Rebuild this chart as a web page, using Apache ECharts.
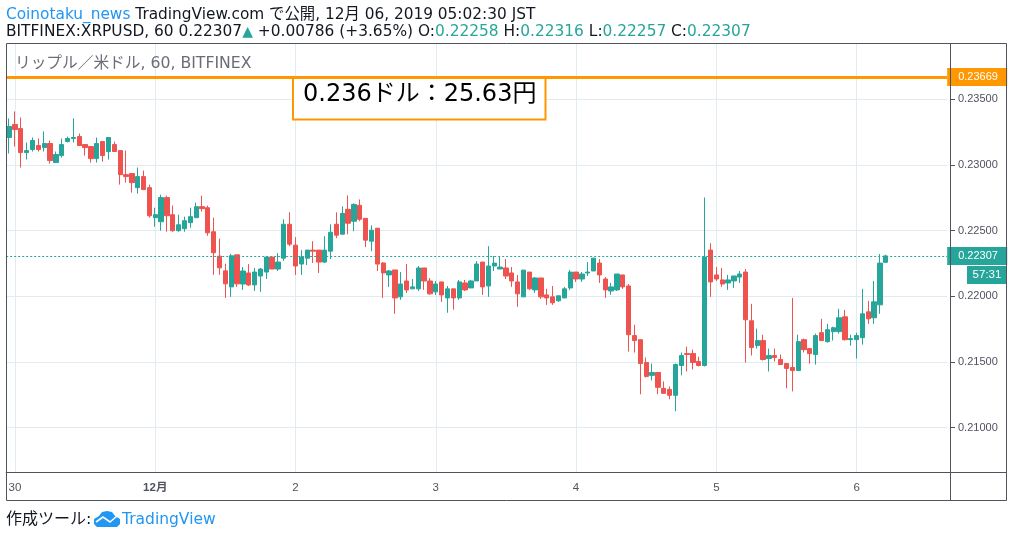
<!DOCTYPE html>
<html><head><meta charset="utf-8">
<style>html,body{margin:0;padding:0;background:#fff}#c{width:1014px;height:537px}</style>
<script src="https://cdn.jsdelivr.net/npm/echarts@6/dist/echarts.min.js"></script>
</head><body><div id="c"></div>
<script>
const opens=[.23209,.23308,.23277,.23094,.23117,.23148,.23132,.23163,.23018,.23071,
.23178,.23201,.23216,.23155,.23140,.23048,.23178,.23102,.23155,.23109,
.22926,.22934,.22827,.22911,.22827,.22598,.22567,.22751,.22621,.22499,
.22514,.22560,.22598,.22682,.22674,.22491,.22305,.22193,.22071,.22315,
.22093,.22177,.22086,.22154,.22184,.22298,.22207,.22290,.22548,.22389,
.22245,.22290,.22351,.22351,.22260,.22343,.22548,.22472,.22662,.22571,
.22692,.22593,.22419,.22518,.22253,.22162,.22200,.21995,.22116,.22056,
.22056,.22215,.22116,.22033,.22109,.21987,.22056,.21987,.22101,.22063,
.22116,.22260,.22078,.22230,.22207,.22215,.22177,.22109,.21995,.22184,
.22048,.22139,.22010,.21995,.21965,.21987,.22063,.22184,.22131,.22177,
.22192,.22252,.22131,.22040,.22048,.22162,.22078,.21700,.21669,.21495,
.21397,.21419,.21298,.21290,.21245,.21472,.21563,.21563,.21503,.21472,
.22351,.22162,.22124,.22101,.22116,.22146,.22184,.21813,.21624,.21662,
.21525,.21548,.21518,.21487,.21457,.21434,.21669,.21601,.21556,.21722,
.21654,.21730,.21730,.21843,.21669,.21669,.21684,.21881,.21836,.21934,.22258];
const closes=[.23293,.23270,.23094,.23109,.23186,.23117,.23163,.23033,.23079,.23155,
.23201,.23209,.23148,.23132,.23048,.23163,.23071,.23209,.23102,.22926,
.22911,.22865,.22911,.22812,.22613,.22621,.22751,.22613,.22499,.22544,
.22575,.22606,.22682,.22667,.22483,.22331,.22216,.22094,.22308,.22094,
.22192,.22086,.22184,.22207,.22298,.22207,.22260,.22548,.22396,.22230,
.22298,.22351,.22343,.22260,.22351,.22487,.22465,.22631,.22556,.22699,
.22586,.22427,.22503,.22245,.22177,.22192,.21987,.22093,.22048,.22071,
.22215,.22116,.22018,.22093,.22010,.22056,.21987,.22109,.22048,.22116,
.22245,.22071,.22230,.22252,.22222,.22154,.22116,.22018,.22199,.22056,
.22139,.21995,.21987,.21950,.22003,.22056,.22184,.22131,.22169,.22184,
.22290,.22162,.22048,.22071,.22169,.22071,.21707,.21662,.21487,.21389,
.21419,.21306,.21260,.21245,.21480,.21548,.21556,.21495,.21472,.22298,
.22109,.22131,.22093,.22124,.22154,.22169,.21821,.21609,.21662,.21518,
.21548,.21533,.21480,.21450,.21434,.21654,.21593,.21563,.21700,.21662,
.21745,.21760,.21836,.21669,.21677,.21700,.21866,.21828,.21957,.22252,.22307];
const highs=[.23354,.23407,.23361,.23171,.23209,.23201,.23255,.23186,.23102,.23201,
.23216,.23354,.23239,.23155,.23140,.23209,.23178,.23209,.23178,.23109,
.23109,.22934,.22980,.22957,.22850,.22674,.22773,.22766,.22690,.22621,
.22606,.22674,.22712,.22766,.22690,.22598,.22438,.22247,.22323,.22315,
.22222,.22245,.22215,.22215,.22298,.22298,.22328,.22586,.22639,.22450,
.22351,.22351,.22419,.22351,.22457,.22548,.22639,.22684,.22768,.22707,
.22737,.22593,.22540,.22518,.22260,.22200,.22200,.22184,.22245,.22131,
.22230,.22215,.22139,.22116,.22109,.22078,.22056,.22124,.22124,.22124,
.22268,.22260,.22381,.22306,.22306,.22283,.22222,.22162,.22199,.22184,
.22146,.22139,.22056,.22078,.22003,.22071,.22199,.22184,.22184,.22260,
.22290,.22283,.22146,.22101,.22169,.22162,.22093,.21783,.21669,.21533,
.21487,.21419,.21351,.21313,.21487,.21571,.21616,.21593,.21540,.22752,
.22404,.22222,.22215,.22162,.22154,.22192,.22207,.21942,.21753,.21707,
.21601,.21601,.21556,.21487,.21987,.21707,.21677,.21601,.21715,.21828,
.21790,.21768,.21904,.21896,.21707,.21722,.22056,.21965,.22116,.22321,.22316];
const lows=[.23087,.23140,.22980,.23041,.23102,.23102,.23102,.23010,.23018,.23056,
.23171,.23171,.23148,.23071,.23018,.23018,.23025,.23041,.23102,.22850,
.22865,.22789,.22781,.22812,.22598,.22529,.22499,.22491,.22491,.22491,
.22491,.22522,.22598,.22644,.22460,.22163,.22163,.21987,.21995,.22071,
.22048,.22078,.22040,.22033,.22131,.22207,.22192,.22268,.22381,.22162,
.22162,.22237,.22253,.22177,.22253,.22283,.22442,.22472,.22472,.22495,
.22571,.22374,.22343,.22192,.21987,.22071,.21866,.21972,.22025,.22056,
.22040,.22048,.22010,.22010,.21957,.21874,.21897,.21972,.22040,.22063,
.22116,.22010,.21995,.22192,.22207,.22131,.22071,.21919,.21995,.22048,
.22025,.21980,.21934,.21934,.21957,.21987,.22048,.22109,.22109,.22154,
.22192,.22101,.21987,.22010,.22040,.22056,.21578,.21571,.21253,.21381,
.21359,.21253,.21260,.21215,.21124,.21397,.21427,.21442,.21465,.21465,
.21995,.22116,.22071,.22048,.22063,.22101,.21495,.21548,.21601,.21510,
.21427,.21503,.21480,.21298,.21275,.21434,.21571,.21487,.21480,.21662,
.21646,.21662,.21715,.21662,.21624,.21525,.21631,.21790,.21790,.21866,.22257];
const totalBars=161;
const dayTickIndex=[1,25,49,73,97,121,145];
const dayTickLabels=['30','12月','2','3','4','5','6'];
const priceTicks=[0.21,0.215,0.22,0.225,0.23,0.235];
const lastPrice=0.22307, levelPrice=0.23669;
const UP='#26a69a',DOWN='#ef5350',ORANGE='#ff9800',AXIS='#50535e',GRID='#e1ecf2',BLUE='#2196f3';
const FF='"DejaVu Sans","Noto Sans CJK JP",sans-serif', AF='"Liberation Sans","Noto Sans CJK JP",sans-serif';
const cats=Array.from({length:totalBars},(_,i)=>String(i));
const candle=opens.map((o,i)=>[o,closes[i],lows[i],highs[i]]);
const isDay=i=>dayTickIndex.includes(i);
const priceLabel=(v,c)=>({yAxis:v,lineStyle:{color:c.line,width:c.w,type:c.t,opacity:1},
 label:{show:true,position:'end',distance:0,formatter:v.toFixed(5),color:'#fff',fontSize:11,fontFamily:AF,
 backgroundColor:c.line,width:49,height:18,lineHeight:18,padding:[0,0,0,11],align:'left'}});
const chart=echarts.init(document.getElementById('c'),null,{renderer:'canvas'});
chart.setOption({animation:false,
 grid:{left:6.2,top:44,width:941,height:428,containLabel:false},
 xAxis:{type:'category',data:cats,boundaryGap:true,
  axisLine:{lineStyle:{color:AXIS}},
  axisTick:{interval:(i)=>isDay(i),alignWithLabel:true,length:4,lineStyle:{color:AXIS}},
  axisLabel:{interval:(i)=>isDay(i),margin:10,color:AXIS,fontSize:11.5,fontFamily:AF,hideOverlap:false,
   formatter:(v,i)=>{const k=dayTickIndex.indexOf(+v);const t=dayTickLabels[k];return t==='12月'?'{b|'+t+'}':t;},
   rich:{b:{fontWeight:'bold',fontSize:11.5,color:AXIS,fontFamily:AF}}},
  splitLine:{show:true,interval:(i)=>isDay(i),alignWithLabel:true,lineStyle:{color:GRID,width:1}}},
 yAxis:{type:'value',position:'right',offset:2.8,min:0.20661,max:0.23921,
  axisLine:{show:true,lineStyle:{color:AXIS}},
  axisTick:{show:true,length:5,lineStyle:{color:AXIS},customValues:priceTicks},
  axisLabel:{customValues:priceTicks,margin:8,color:AXIS,fontSize:11,fontFamily:AF,formatter:v=>v.toFixed(5)},
  splitLine:{show:true,lineStyle:{color:GRID,width:1}}},
 series:[{type:'candlestick',data:candle,barWidth:4.8,
  itemStyle:{color:UP,color0:DOWN,borderColor:UP,borderColor0:DOWN,borderWidth:1},
  markLine:{silent:true,symbol:'none',animation:false,precision:5,
   data:[priceLabel(levelPrice,{line:ORANGE,w:3,t:'solid'}),priceLabel(lastPrice,{line:UP,w:1,t:[2,2]})]}}],
 graphic:[
  {type:'rect',z:50,silent:true,shape:{x:6.5,y:43.5,width:1000,height:457},style:{fill:'none',stroke:AXIS,lineWidth:1}},
  {type:'line',z:50,silent:true,shape:{x1:950.5,y1:44,x2:950.5,y2:500},style:{stroke:AXIS,lineWidth:1}},
  {type:'line',z:50,silent:true,shape:{x1:7,y1:472.5,x2:1006,y2:472.5},style:{stroke:AXIS,lineWidth:1}},
  {type:'rect',z:40,silent:true,shape:{x:293,y:78,width:252.5,height:41.5},style:{fill:'#fff',stroke:ORANGE,lineWidth:2}},
  {type:'text',z:41,silent:true,x:303,y:95,style:{text:'0.236ドル：25.63円',fill:'#000',font:'24px '+FF,verticalAlign:'middle'}},
  {type:'text',z:41,silent:true,x:15,y:64,style:{text:'リップル／米ドル, 60, BITFINEX',fill:'#6a6d78',font:'15.7px '+FF,verticalAlign:'middle'}},
  {type:'text',z:41,silent:true,x:6,y:15,style:{verticalAlign:'middle',font:'15.35px '+FF,fill:'#131722',
   text:'{a|Coinotaku_news} TradingView.com で公開, 12月 06, 2019 05:02:30 JST',
   rich:{a:{fill:BLUE,font:'15.35px '+FF}}}},
  {type:'text',z:41,silent:true,x:6,y:32,style:{verticalAlign:'middle',font:'15.4px '+FF,fill:'#131722',
   text:'BITFINEX:XRPUSD, 60 0.22307{t|▲} +0.00786 (+3.65%) O:{g|0.22258} H:{g|0.22316} L:{g|0.22257} C:{g|0.22307}',
   rich:{g:{fill:UP,font:'15.4px '+FF},t:{fill:UP,font:'14px '+FF}}}},
  {type:'rect',z:41,silent:true,shape:{x:967,y:266,width:40,height:18},style:{fill:UP}},
  {type:'text',z:42,silent:true,x:987,y:275,style:{text:'57:31',fill:'#fff',font:'11.5px '+AF,align:'center',verticalAlign:'middle'}},
  {type:'text',z:41,silent:true,x:6,y:520,style:{text:'作成ツール:',fill:'#131722',font:'16px '+FF,verticalAlign:'middle'}},
  {type:'polygon',z:41,silent:true,shape:{points:[[94,524],[94,519],[99,516],[102,512],[107,511],[112,512],[115,516],[120,519],[120,524],[117,527],[97,527]]},style:{fill:BLUE}},
  {type:'polyline',z:42,silent:true,shape:{points:[[96,522],[103,517],[110,522],[117,516]]},style:{stroke:'#fff',lineWidth:1.6,fill:'none'}},
  {type:'text',z:41,silent:true,x:122,y:520,style:{text:'TradingView',fill:BLUE,font:'15.5px '+FF,verticalAlign:'middle'}}
 ]});
</script></body></html>
